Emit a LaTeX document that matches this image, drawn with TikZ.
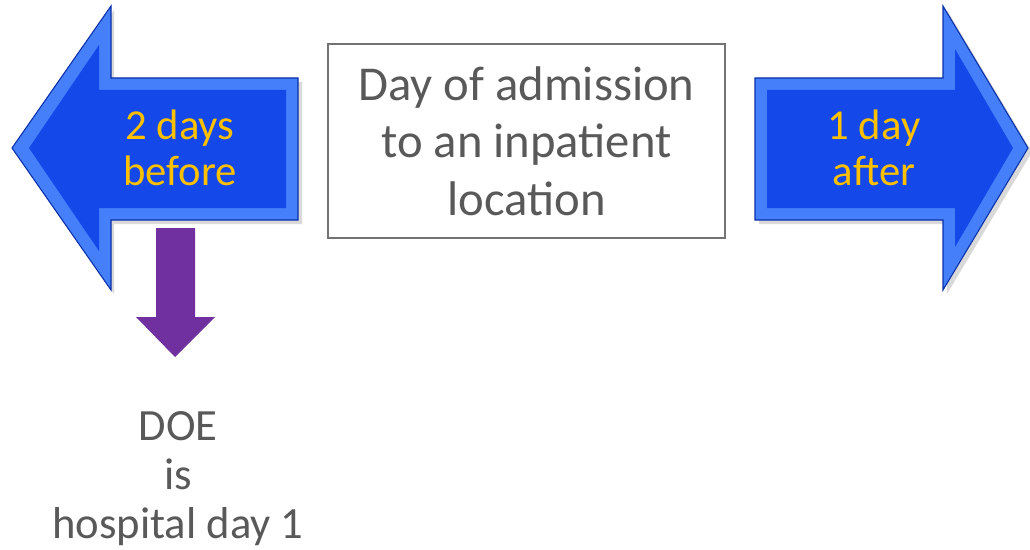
\documentclass[tikz,border=0pt]{standalone}
\usepackage{fontspec}
\setmainfont{Carlito}
\usetikzlibrary{positioning}
\definecolor{bevelblue}{HTML}{4580FA}
\definecolor{faceblue}{HTML}{1448E8}
\definecolor{edgeblue}{HTML}{0A2FA8}
\definecolor{daygold}{HTML}{FFC000}
\definecolor{notegrey}{HTML}{595959}
\definecolor{doepurple}{HTML}{7030A0}
\begin{document}
\begin{tikzpicture}[x=0.75pt, y=-0.75pt,
    outerarrow/.style={fill=bevelblue, draw=edgeblue, line width=0.8pt, line join=miter},
    innerarrow/.style={fill=faceblue},
    shadowarrow/.style={fill=black, opacity=0.15},
    daytext/.style={text=daygold, font=\fontsize{32}{34}\selectfont, align=center},
    greytext/.style={text=notegrey, align=center},
    admitbox/.style={draw=black!55, line width=1pt, minimum width=297.75pt, minimum height=145.5pt}]
\useasboundingbox (0,0) rectangle (1030,549);

% left arrow: 2 days before
\fill[shadowarrow] (15,152) -- (114,10) -- (114,82) -- (302,82) -- (302,224) -- (114,224) -- (114,294) -- cycle;
\draw[outerarrow] (12,148) -- (111,6) -- (111,78) -- (298,78) -- (298,220) -- (111,220) -- (111,290) -- cycle;
\fill[innerarrow] (29,148) -- (99,45) -- (99,90) -- (286,90) -- (286,208) -- (99,208) -- (99,251) -- cycle;
\node[daytext] (before) at (180,148) {2 days\\before};

% right arrow: 1 day after
\fill[shadowarrow] (759,82) -- (947,82) -- (947,10) -- (1032,152) -- (947,294) -- (947,224) -- (759,224) -- cycle;
\draw[outerarrow] (755,78) -- (943,78) -- (943,6) -- (1028,148) -- (943,290) -- (943,220) -- (755,220) -- cycle;
\fill[innerarrow] (767,90) -- (955,90) -- (955,49) -- (1013,148) -- (955,247) -- (955,208) -- (767,208) -- cycle;
\node[daytext] (after) at (874,148) {1 day\\after};

% middle box
\node[admitbox, greytext, font=\fontsize{36.5}{43}\selectfont] (admit) at (526.5,141) {Day of admission\\to an inpatient\\location};

% purple down arrow
\fill[doepurple] (156,228) -- (195,228) -- (195,317) -- (215,317) -- (175,357) -- (136,317) -- (156,317) -- cycle;
\coordinate (doetip) at (178,357);
\node[greytext, font=\fontsize{33.5}{37}\selectfont, below=37pt of doetip] (doe) {DOE\\is\\hospital day 1};
\end{tikzpicture}
\end{document}
